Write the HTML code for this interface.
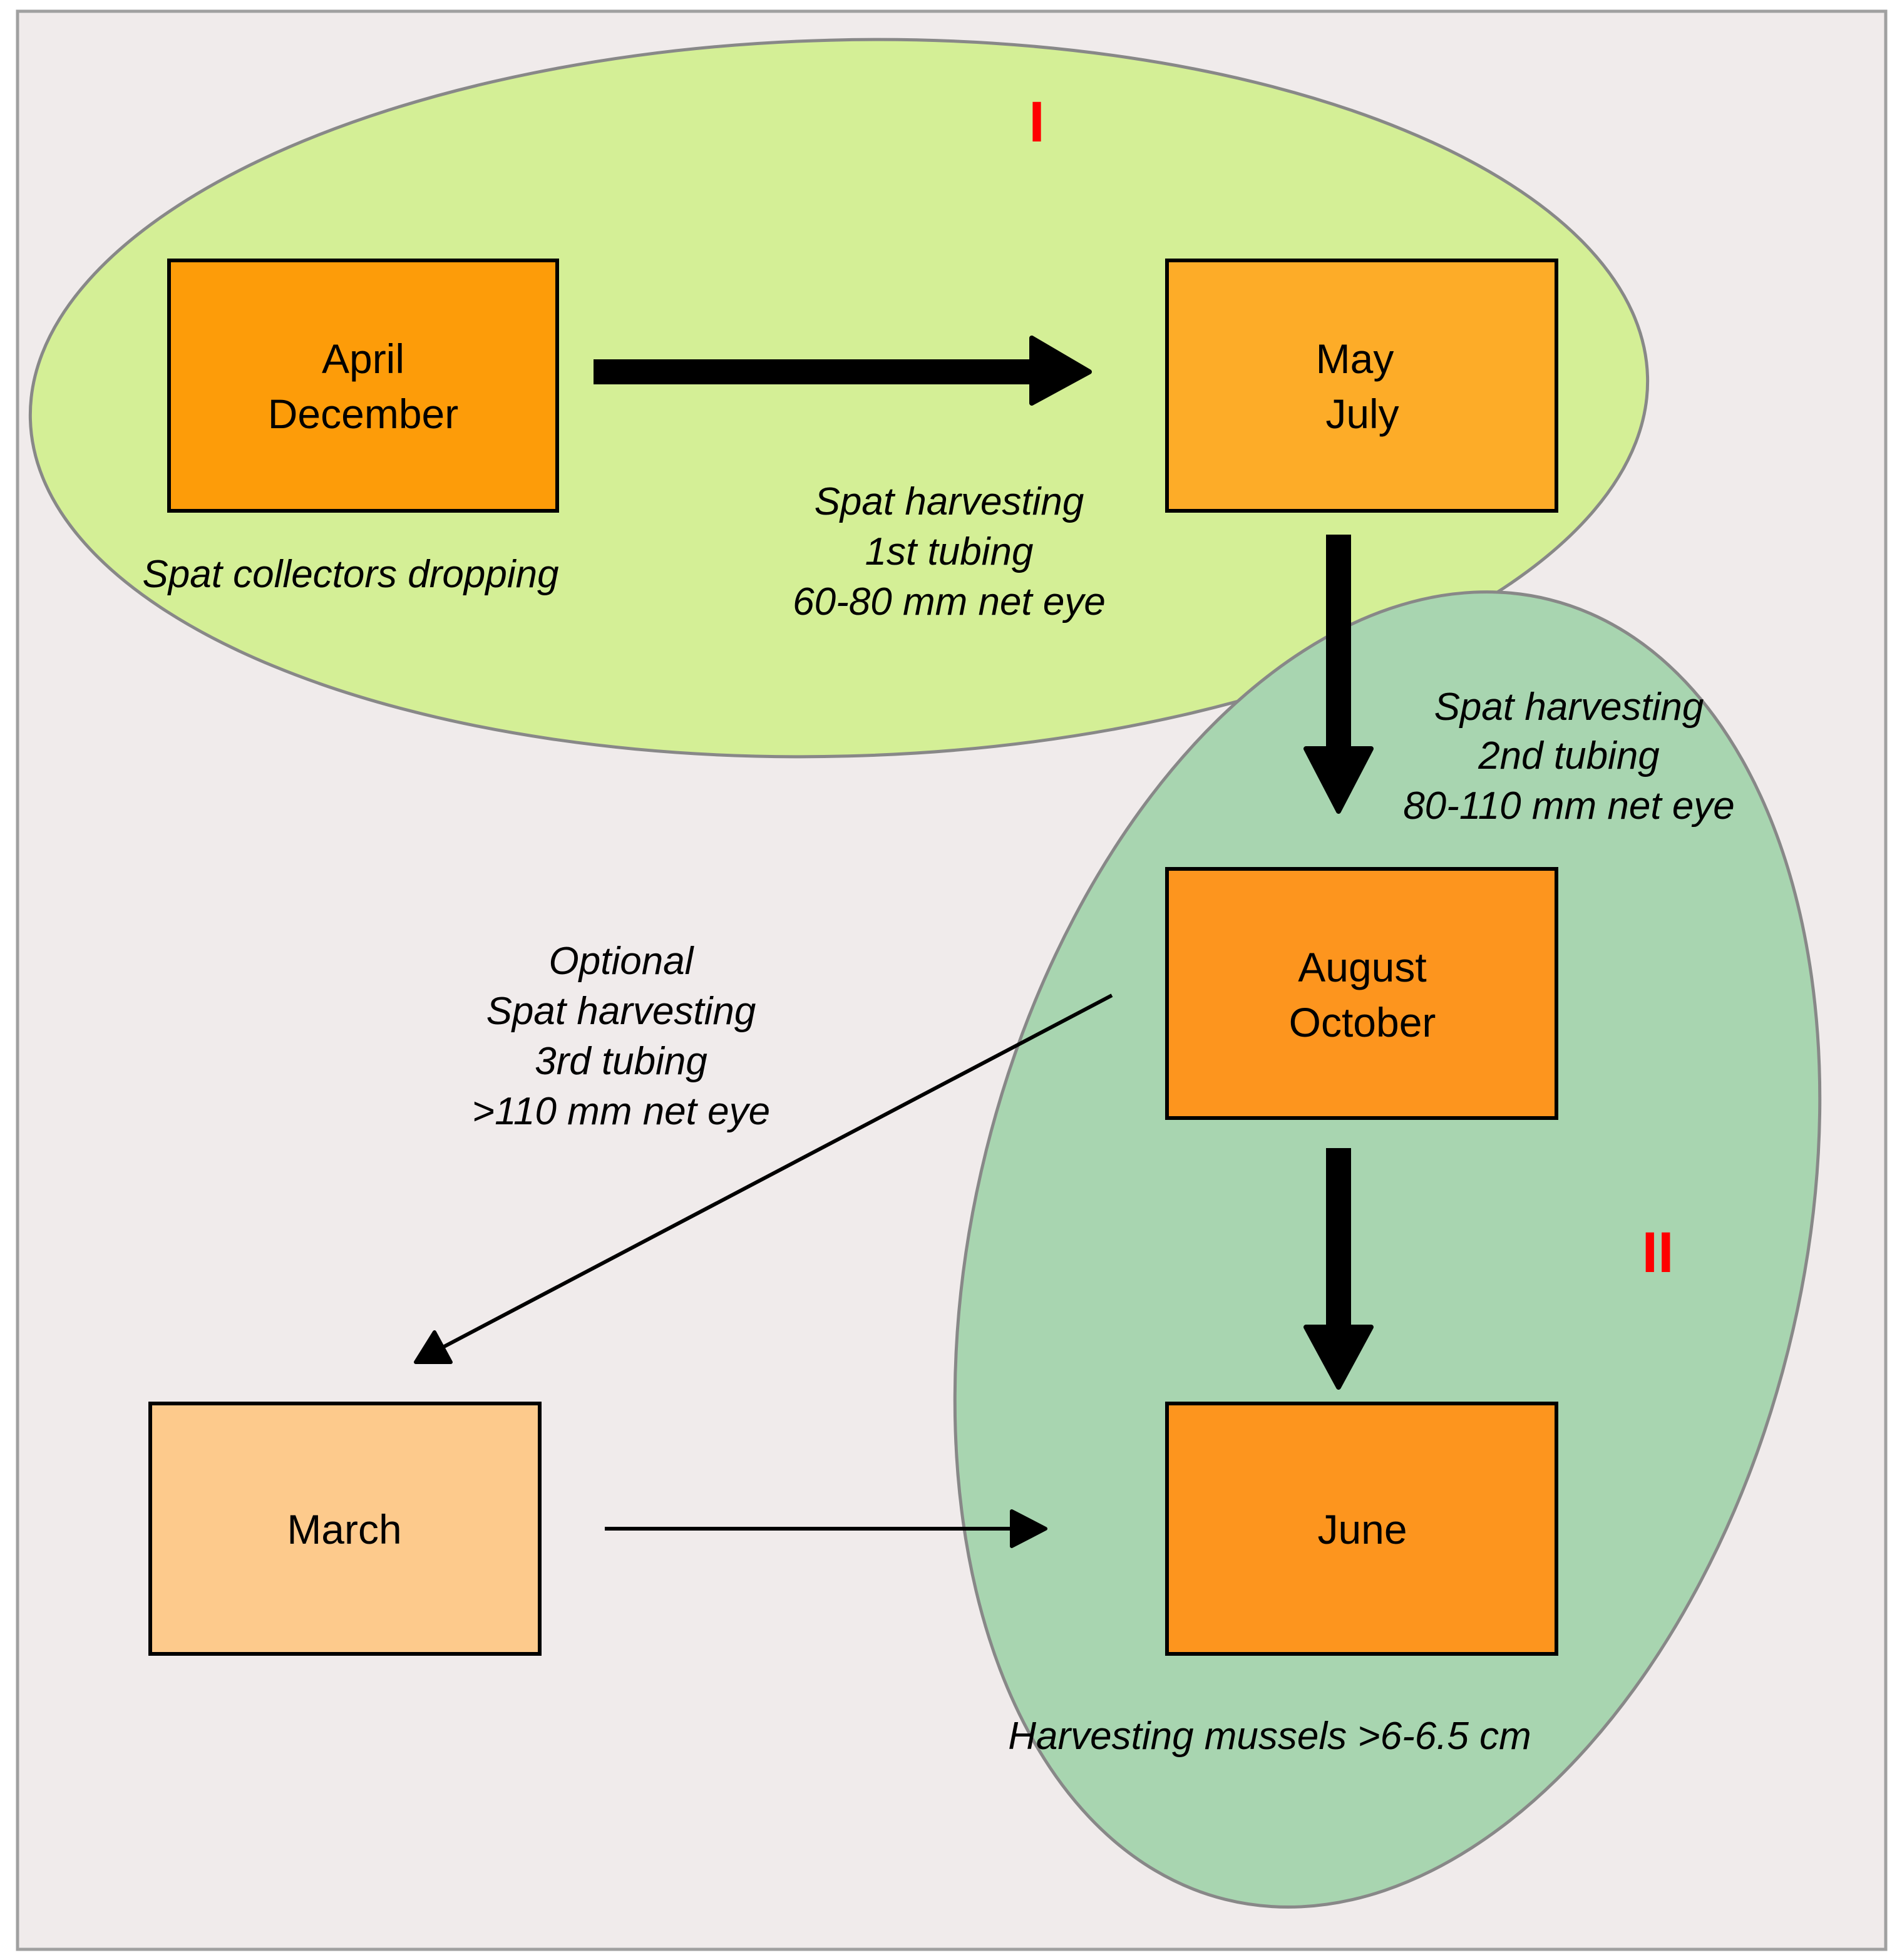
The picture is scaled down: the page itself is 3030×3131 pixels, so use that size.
<!DOCTYPE html>
<html><head><meta charset="utf-8"><style>
html,body{margin:0;padding:0;background:#fff;}
svg{display:block;}
text{font-family:"Liberation Sans",Arial,sans-serif;font-size:33px;fill:#000;}
.i{font-style:italic;font-size:31px;}
</style></head><body>
<svg width="3030" height="3131" viewBox="0 0 1515 1565.5" xmlns="http://www.w3.org/2000/svg">
<rect x="14" y="9" width="1492" height="1548" fill="#f0ebeb" stroke="#a0a0a0" stroke-width="2.5"/>
<ellipse cx="670" cy="318" rx="646" ry="286" transform="rotate(-1.5 670 318)" fill="#d4ef96" stroke="#888" stroke-width="2.5"/>
<ellipse cx="1108" cy="998" rx="330" ry="535" transform="rotate(14 1108 998)" fill="#a8d5b0" stroke="#888" stroke-width="2.5"/>
<text x="828" y="113" text-anchor="middle" style="font-size:46px;font-weight:bold;fill:#f00">I</text>
<text x="1324" y="1016" text-anchor="middle" style="font-size:46px;font-weight:bold;fill:#f00">II</text>
<g stroke="#000" stroke-width="3">
<rect x="135" y="208" width="310" height="200" fill="#fd9c09"/>
<rect x="932" y="208" width="311" height="200" fill="#fdac28"/>
<rect x="932" y="694" width="311" height="199" fill="#fd951e"/>
<rect x="120" y="1121" width="311" height="200" fill="#fdca8c"/>
<rect x="932" y="1121" width="311" height="200" fill="#fd951e"/>
</g>
<text x="290" y="298" text-anchor="middle">April</text>
<text x="290" y="342" text-anchor="middle">December</text>
<text x="1082" y="298" text-anchor="middle">May</text>
<text x="1088" y="342" text-anchor="middle">July</text>
<text x="1088" y="784" text-anchor="middle">August</text>
<text x="1088" y="828" text-anchor="middle">October</text>
<text x="275" y="1233" text-anchor="middle">March</text>
<text x="1088" y="1233" text-anchor="middle">June</text>
<!-- thick arrows -->
<g fill="#000" stroke="#000" stroke-linejoin="round" stroke-width="4">
<rect x="474" y="287" width="356" height="20" stroke="none"/>
<polygon points="824,270 870,297 824,322"/>
<rect x="1059" y="427" width="20" height="175" stroke="none"/>
<polygon points="1043,598 1095,598 1069,648"/>
<rect x="1059" y="917" width="20" height="145" stroke="none"/>
<polygon points="1043,1060 1095,1060 1069,1108"/>
</g>
<g stroke="#000" stroke-width="3" fill="#000" stroke-linejoin="round">
<line x1="888" y1="795" x2="350" y2="1078"/>
<polygon points="332,1088 347,1064 360,1088" stroke-width="3"/>
<line x1="483" y1="1221" x2="812" y2="1221"/>
<polygon points="808,1207 835,1221 808,1235"/>
</g>
<text class="i" x="280" y="469" text-anchor="middle">Spat collectors dropping</text>
<text class="i" x="758" y="411" text-anchor="middle">Spat harvesting</text>
<text class="i" x="758" y="451" text-anchor="middle">1st tubing</text>
<text class="i" x="758" y="491" text-anchor="middle">60-80 mm net eye</text>
<text class="i" x="1253" y="575" text-anchor="middle">Spat harvesting</text>
<text class="i" x="1253" y="614" text-anchor="middle">2nd tubing</text>
<text class="i" x="1253" y="654" text-anchor="middle">80-110 mm net eye</text>
<text class="i" x="496" y="778" text-anchor="middle">Optional</text>
<text class="i" x="496" y="818" text-anchor="middle">Spat harvesting</text>
<text class="i" x="496" y="858" text-anchor="middle">3rd tubing</text>
<text class="i" x="496" y="898" text-anchor="middle">&gt;110 mm net eye</text>
<text class="i" x="1014" y="1397" text-anchor="middle">Harvesting mussels &gt;6-6.5 cm</text>
</svg>
</body></html>
